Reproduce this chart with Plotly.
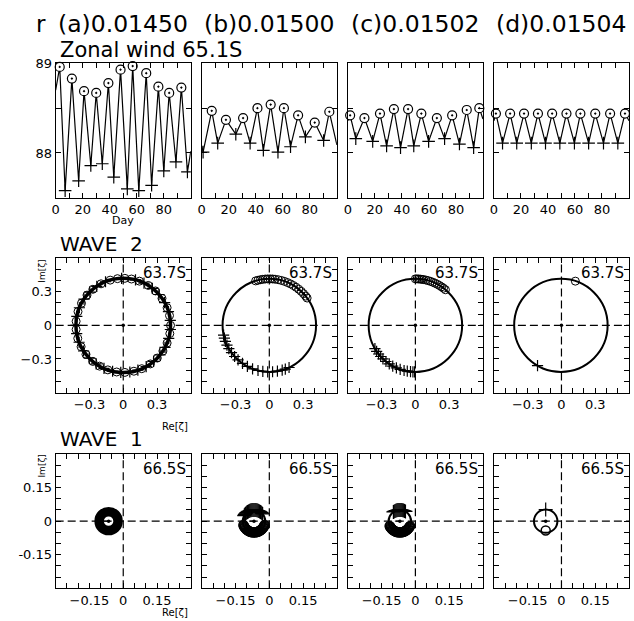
import math
import plotly.graph_objects as go

W, H = 634, 621
COL_L = [52, 199, 346, 493]
ROW_T = [57, 254, 452]
BOX = 136
FONT = "DejaVu Sans"

# ---------------- data ----------------
title_tokens = ["(a)0.01450", "(b)0.01500", "(c)0.01502", "(d)0.01504"]

# zonal wind 65.1S: day, value, kind ("o" maximum, "+" minimum, "" plain)
day_a = [0, 3, 7, 12, 17, 21, 26, 30, 34.5, 39, 43, 48, 53, 57, 61.5, 67, 71, 76, 80, 84, 89, 93, 97.5, 100]
wind_a = [88.70, 88.96, 87.58, 88.83, 87.69, 88.69, 87.86, 88.67, 87.88, 88.78, 87.73, 88.93, 87.60, 88.97,
          87.58, 88.89, 87.64, 88.74, 87.80, 88.67, 87.90, 88.73, 87.79, 88.02]
kind_a = ["", "o", "+", "o", "+", "o", "+", "o", "+", "o", "+", "o", "+", "o", "+", "o", "+", "o", "+", "o", "+", "o", "+", ""]

day_b = [0, 1, 7.4, 11.8, 17.9, 25.2, 30.6, 35.8, 41.2, 45.6, 51, 56.4, 60.8, 65.7, 71.3, 76.7, 83.6, 90.2, 94.4, 100]
wind_b = [88.08, 88.01, 88.47, 88.11, 88.37, 88.21, 88.39, 88.11, 88.50, 88.03, 88.54, 88.01, 88.50, 88.07,
          88.42, 88.18, 88.34, 88.14, 88.46, 88.09]
kind_b = ["", "+", "o", "+", "o", "+", "o", "+", "o", "+", "o", "+", "o", "+", "o", "+", "o", "+", "o", ""]

day_c = [0, 1.7, 5.9, 12.3, 18.4, 23.8, 28.7, 34.1, 39, 44.6, 48.8, 54.4, 59.8, 65.9, 71.6, 77.2, 82.6, 88, 93.1, 97.3, 100]
wind_c = [88.36, 88.42, 88.16, 88.39, 88.13, 88.44, 88.08, 88.49, 88.06, 88.49, 88.08, 88.44, 88.13, 88.39,
          88.16, 88.42, 88.10, 88.48, 88.06, 88.50, 88.38]
kind_c = ["", "o", "+", "o", "+", "o", "+", "o", "+", "o", "+", "o", "+", "o", "+", "o", "+", "o", "+", "o", ""]

day_d = [0, 1.5, 6.4, 12, 16.9, 22.3, 27.7, 32.6, 38.2, 43.1, 48.8, 53.7, 59.6, 64, 70.1, 75, 81.1, 86, 91.7, 97, 100]
wind_d = [88.36, 88.44, 88.11, 88.44, 88.11, 88.44, 88.11, 88.44, 88.11, 88.44, 88.11, 88.44, 88.11, 88.44,
          88.11, 88.44, 88.11, 88.44, 88.11, 88.44, 88.36]
kind_d = ["", "o", "+", "o", "+", "o", "+", "o", "+", "o", "+", "o", "+", "o", "+", "o", "+", "o", "+", "o", ""]

wind_days = [day_a, day_b, day_c, day_d]
wind_vals = [wind_a, wind_b, wind_c, wind_d]
wind_kind = [kind_a, kind_b, kind_c, kind_d]

# WAVE 2 (63.7S): orbit centre, radius, phase angles (deg) of maxima (o) and minima (+)
w2_center = [(0.0, 0.0), (0.0, 0.0), (0.0, 0.0), (-0.005, 0.0)]
w2_radius = [0.42, 0.415, 0.415, 0.415]
w2_width = [3.5, 2.0, 2.0, 2.0]
w2_max_ang = [
    [0, 12, 22, 35, 47, 58, 70, 80, 88, 97, 106, 118, 130, 140, 152, 163, 175, 185, 196, 207, 218, 230,
     240, 251, 262, 272, 283, 293, 305, 316, 327, 338, 350],
    [107, 104, 101, 98, 95, 92, 89, 86, 83, 79, 75, 71, 67, 63, 59, 55, 51, 47, 43, 39, 36],
    [90, 88, 86, 84, 82, 80, 77, 74, 71, 68, 65, 62, 59, 56, 53, 50],
    [72],
]
w2_min_ang = [
    [6, 17, 29, 41, 52, 64, 75, 92, 112, 124, 135, 146, 158, 169, 180, 190, 201, 213, 224, 235, 246, 257,
     267, 278, 288, 299, 310, 321, 332, 344, 355],
    [192, 196, 200, 205, 210, 216, 222, 228, 235, 242, 249, 256, 262, 268, 274, 280, 286, 290, 295],
    [210, 214, 218, 222, 226, 231, 236, 241, 246, 251, 256, 260, 264, 267, 269],
    [240],
]

# WAVE 1 (66.5S)
w1_center = [(-0.065, 0.0), (-0.068, 0.0), (-0.069, 0.0), (-0.07, 0.0)]
w1_radius = [0.042, 0.05, 0.05, 0.052]
w1_width = [9.5, 2.0, 2.0, 2.0]
w1_max_ang = [
    [],
    [200, 205, 210, 215, 220, 225, 230, 235, 240, 245, 250, 255, 260, 265, 270, 275, 280, 285, 290, 295,
     300, 305, 310, 315, 320, 325, 330, 335, 340],
    [205, 210, 215, 220, 225, 230, 235, 240, 245, 250, 255, 260, 265, 270, 275, 280, 285, 290, 295, 300,
     305, 310, 315, 320, 325, 330, 335],
    [270],
]
w1_max_r = [0.042, 0.05, 0.05, 0.042]
w1_min_ang = [
    [],
    [40, 45, 50, 55, 60, 65, 70, 75, 80, 85, 90, 95, 100, 105, 110, 115, 120, 125, 130, 135, 140, 145, 150],
    [60, 65, 70, 75, 80, 85, 90, 95, 100, 105, 110, 115, 120, 125],
    [90],
]

wind_ticks = [0, 10, 20, 30, 40, 50, 60, 70, 80, 90]
wind_ticktext = ["0", "", "20", "", "40", "", "60", "", "80", ""]
wind_yticks = [88, 88.5, 89]
wind_yticktext = ["88", "", "89"]
w2_ticks = [-0.5, -0.4, -0.3, -0.2, -0.1, 0, 0.1, 0.2, 0.3, 0.4, 0.5]
w2_ticktext = ["", "", "\u22120.3", "", "", "0", "", "", "0.3", "", ""]
w1_ticks = [-0.25, -0.2, -0.15, -0.1, -0.05, 0, 0.05, 0.1, 0.15, 0.2, 0.25]
w1_xticktext = ["", "", "\u22120.15", "", "", "0", "", "", "0.15", "", ""]
w1_yticktext = ["", "", "-0.15", "", "", "0", "", "", "0.15", "", ""]

# ---------------- figure ----------------
def px(x):
    return x / W


def py(y):
    return 1 - y / H


fig = go.Figure()
layout = dict(
    width=W, height=H, margin=dict(l=0, r=0, t=0, b=0),
    paper_bgcolor="white", plot_bgcolor="white", showlegend=False,
    font=dict(family=FONT, color="black"),
)
shapes = []
annotations = []


def axis_common(domain, rng, tickvals, ticktext, anchor, show_labels):
    return dict(
        domain=domain, range=rng, tickvals=tickvals, ticktext=ticktext,
        showticklabels=show_labels, ticks="inside", ticklen=5, tickwidth=1, tickcolor="black",
        showline=True, linecolor="black", linewidth=1, mirror="ticks",
        showgrid=False, zeroline=False, anchor=anchor,
        tickfont=dict(family=FONT, size=13, color="black"),
    )


def ax_names(n):
    return ("x" if n == 1 else f"x{n}"), ("y" if n == 1 else f"y{n}")


for row in range(3):
    for col in range(4):
        n = row * 4 + col + 1
        xa, ya = ax_names(n)
        xdom = [px(COL_L[col]), px(COL_L[col] + BOX)]
        ydom = [py(ROW_T[row] + BOX), py(ROW_T[row])]
        if row == 0:
            xr, yr = [0, 100], [87.5, 89]
            xt, xtt, yt, ytt = wind_ticks, wind_ticktext, wind_yticks, wind_yticktext
        elif row == 1:
            xr, yr = [-0.6, 0.6], [-0.6, 0.6]
            xt, xtt, yt, ytt = w2_ticks, w2_ticktext, w2_ticks, w2_ticktext
        else:
            xr, yr = [-0.3, 0.3], [-0.3, 0.3]
            xt, xtt, yt, ytt = w1_ticks, w1_xticktext, w1_ticks, w1_yticktext
        layout["xaxis" if n == 1 else f"xaxis{n}"] = axis_common(xdom, xr, xt, xtt, ya, True)
        layout["yaxis" if n == 1 else f"yaxis{n}"] = axis_common(ydom, yr, yt, ytt, xa, col == 0)

        if row == 0:
            d, v, k = wind_days[col], wind_vals[col], wind_kind[col]
            fig.add_trace(go.Scatter(x=d, y=v, mode="lines", line=dict(color="black", width=1.2),
                                     xaxis=xa, yaxis=ya, hoverinfo="skip"))
            fig.add_trace(go.Scatter(
                x=[d[i] for i in range(len(d)) if k[i] == "o"], y=[v[i] for i in range(len(d)) if k[i] == "o"],
                mode="markers", marker=dict(symbol="circle-dot", size=9, color="white",
                                            line=dict(color="black", width=1.2)),
                xaxis=xa, yaxis=ya, cliponaxis=False))
            fig.add_trace(go.Scatter(
                x=[d[i] for i in range(len(d)) if k[i] == "+"], y=[v[i] for i in range(len(d)) if k[i] == "+"],
                mode="markers", marker=dict(symbol="cross-thin", size=9, color="black",
                                            line=dict(color="black", width=1.2)),
                xaxis=xa, yaxis=ya))
        else:
            if row == 1:
                (cx, cy), r, lw = w2_center[col], w2_radius[col], w2_width[col]
                mx_ang, mn_ang, mr = w2_max_ang[col], w2_min_ang[col], r
                msize = 8
                dot = (0.0, 0.0)
            else:
                (cx, cy), r, lw = w1_center[col], w1_radius[col], w1_width[col]
                mx_ang, mn_ang, mr = w1_max_ang[col], w1_min_ang[col], w1_max_r[col]
                msize = 8
                dot = (cx, cy)
            # dashed axes through zero
            shapes.append(dict(type="line", xref=f"{xa} domain", yref=ya, x0=0, x1=1, y0=0, y1=0,
                               line=dict(color="black", width=1.2, dash="8px,4px"), layer="below"))
            shapes.append(dict(type="line", xref=xa, yref=f"{ya} domain", x0=0, x1=0, y0=0, y1=1,
                               line=dict(color="black", width=1.2, dash="8px,4px"), layer="below"))
            # orbit
            shapes.append(dict(type="circle", xref=xa, yref=ya, x0=cx - r, x1=cx + r, y0=cy - r, y1=cy + r,
                               line=dict(color="black", width=lw)))
            if row == 2:
                shapes.append(dict(type="line", xref=xa, yref=ya, x0=cx - 0.022, x1=cx, y0=cy, y1=cy,
                                   line=dict(color="black", width=1)))
            fig.add_trace(go.Scatter(x=[dot[0]], y=[dot[1]], mode="markers",
                                     marker=dict(symbol="circle", size=3.5, color="black"),
                                     xaxis=xa, yaxis=ya))
            if mx_ang:
                fig.add_trace(go.Scatter(
                    x=[cx + mr * math.cos(math.radians(a)) for a in mx_ang],
                    y=[cy + mr * math.sin(math.radians(a)) for a in mx_ang],
                    mode="markers", marker=dict(symbol="circle-open", size=msize + (1 if row == 2 else 0),
                                                color="black", line=dict(width=1.5 if row == 2 else 1)),
                    xaxis=xa, yaxis=ya))
            if mn_ang:
                fig.add_trace(go.Scatter(
                    x=[cx + r * math.cos(math.radians(a)) for a in mn_ang],
                    y=[cy + r * math.sin(math.radians(a)) for a in mn_ang],
                    mode="markers", marker=dict(symbol="cross-thin", size=msize + (2 if row == 2 else 0),
                                                color="black", line=dict(color="black", width=1.2)),
                    xaxis=xa, yaxis=ya))
            label = "63.7S" if row == 1 else "66.5S"
            annotations.append(dict(text=label, xref="paper", yref="paper",
                                    x=px(COL_L[col] + BOX - 3), y=py(ROW_T[row] + 15),
                                    xanchor="right", yanchor="middle", showarrow=False,
                                    font=dict(family=FONT, size=15, color="black")))


def text(t, x, y, size, xanchor="center", angle=0):
    annotations.append(dict(text=t, xref="paper", yref="paper", x=px(x), y=py(y), xanchor=xanchor,
                            yanchor="middle", showarrow=False, textangle=angle, borderpad=0,
                            font=dict(family=FONT, size=size, color="black")))


text("r", 37, 17, 23)
for i, tok in enumerate(title_tokens):
    text(tok, COL_L[i] + 68, 17, 23.5)
text("Zonal wind 65.1S", 55, 43, 21, xanchor="left")
text("Day", 120, 216, 11)
text("WAVE  2", 55, 240, 20, xanchor="left")
text("WAVE  1", 55, 437, 20, xanchor="left")
text("Im[\u03b6]", 38, 267, 9, angle=-90)
text("Im[\u03b6]", 38, 464, 9, angle=-90)
text("Re[\u03b6]", 172, 424, 10)
text("Re[\u03b6]", 172, 612, 10)

layout["shapes"] = shapes
layout["annotations"] = annotations
fig.update_layout(**layout)
fig.write_html(
    "out.html",
    config={"displayModeBar": False},
    post_script="document.body.style.margin='0';document.body.style.padding='0';"
                "document.body.style.overflow='hidden';",
)
